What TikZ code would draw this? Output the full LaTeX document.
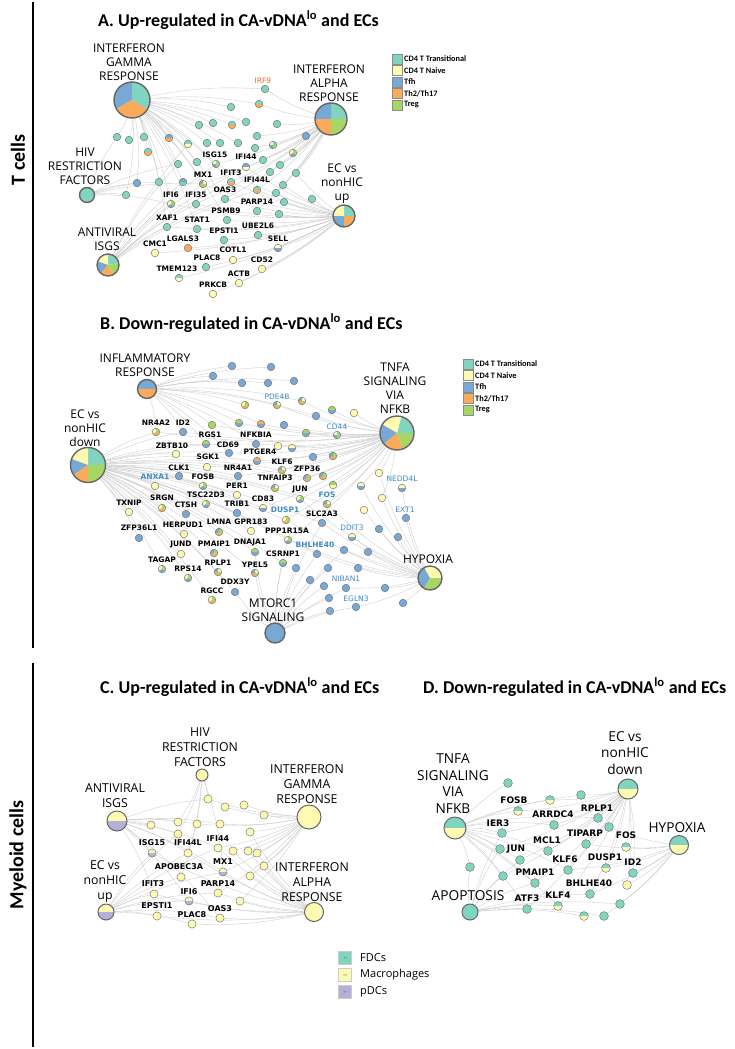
\documentclass[tikz,border=0pt]{standalone}
\usepackage{fontspec}
\setmainfont{Carlito}
\newfontfamily\genefont{DejaVu Sans}
\newfontfamily\hubfont{Open Sans}
\pgfdeclarelayer{back}
\pgfdeclarelayer{bg}
\pgfsetlayers{back,bg,main}
\definecolor{cT}{RGB}{128,212,192}
\definecolor{cY}{RGB}{255,250,178}
\definecolor{cB}{RGB}{120,168,212}
\definecolor{cO}{RGB}{250,170,88}
\definecolor{cG}{RGB}{168,214,100}
\definecolor{cL}{RGB}{180,176,216}
\definecolor{bt}{RGB}{62,140,200}
\definecolor{ot}{RGB}{230,110,40}
\def\sT{0/360/cT}\def\sY{0/360/cY}\def\sB{0/360/cB}\def\sO{0/360/cO}\def\sG{0/360/cG}
\def\sTO{0/180/cT,180/360/cO}\def\sTY{0/180/cT,180/360/cY}\def\sYB{0/180/cY,180/360/cB}
\def\sBO{0/180/cB,180/360/cO}\def\sGB{0/180/cG,180/360/cB}\def\sOB{0/180/cO,180/360/cB}
\def\sBT{0/180/cB,180/360/cT}\def\sBY{0/180/cB,180/360/cY}\def\sGY{0/180/cG,180/360/cY}
\def\sYL{0/180/cY,180/360/cL}
\def\sMa{90/210/cY,210/330/cB,330/450/cG}
\def\sMb{0/90/cT,90/180/cY,180/270/cB,270/360/cG}
\def\sMc{0/90/cY,90/180/cB,180/270/cO,270/360/cG}
\def\sMd{90/210/cY,210/330/cO,330/450/cG}
\def\sMe{90/210/cB,210/330/cO,330/450/cG}
\def\gr{3.8}\def\gfs{7.5}\def\hlw{1.4pt}
\newcommand\PN[5]{%
  \node[dot,minimum size={2*#4*1pt}] (#1) at (#2,-#3) {};
  \edef\pnlist{#5}%
  \foreach \pa/\pb/\pc in \pnlist {\fill[\pc] (#2,-#3) -- ++(\pa:#4) arc[start angle=\pa,end angle=\pb,radius=#4] -- cycle;}
  \draw[dotline] (#2,-#3) circle[radius=#4];}
\newcommand\HN[5]{%
  \node[dot,minimum size={2*#4*1pt}] (#1) at (#2,-#3) {};
  \edef\pnlist{#5}%
  \foreach \pa/\pb/\pc in \pnlist {\fill[\pc] (#2,-#3) -- ++(\pa:#4) arc[start angle=\pa,end angle=\pb,radius=#4] -- cycle;}
  \draw[draw=black!60,line width=\hlw] (#2,-#3) circle[radius=#4];}
\newcommand\GN[7]{\PN{#1}{#2}{#3}{\gr}{#4}\node[glab] (#1l) at (#5,-#6) {#7};}
\newcommand\E[2]{\foreach \t in {#2}{\draw[edge] (#1) to[bend left=7] (\t);}}
\newcommand\LG[5]{\node[lgbox] (#1) at (#2,-#3) [fill=#4] {};\node[lgtxt] (#1t) at (#2+6.5,-#3) {#5};}
\tikzset{
  dot/.style={circle,inner sep=0pt,draw=none},
  dotline/.style={draw=black!55,line width=0.45pt},
  edge/.style={draw=black!20,line width=0.35pt},
  glab/.style={font=\genefont\bfseries\fontsize{\gfs}{\gfs}\selectfont,inner sep=0pt},
  hlab/.style={font=\hubfont\fontsize{12}{14}\selectfont,align=center,inner sep=0pt},
  ttl/.style={font=\bfseries\fontsize{18}{20}\selectfont,anchor=west,inner sep=0pt},
  side/.style={font=\bfseries\fontsize{20}{22}\selectfont,rotate=90,inner sep=0pt},
  lgbox/.style={draw=black!45,line width=0.4pt,minimum width=10pt,minimum height=10pt,inner sep=0pt},
  lgtxt/.style={font=\bfseries\fontsize{8.3}{9}\selectfont,anchor=west,inner sep=0pt},
  lgbox2/.style={draw=black!20,line width=0.4pt,minimum width=13pt,minimum height=13pt,inner sep=0pt},
  lgtxt2/.style={font=\hubfont\fontsize{11}{12}\selectfont,anchor=west,inner sep=0pt},
}
\begin{document}
\begin{tikzpicture}[x=1pt,y=1pt]
\useasboundingbox (0,0) rectangle (734,-1049);
\begin{pgfonlayer}{back}
\fill[white] (0,0) rectangle (734,-1049);
\end{pgfonlayer}
% side bars
\coordinate (b1t) at (33,-2); \coordinate (b1b) at (33,-648);
\coordinate (b2t) at (33,-663); \coordinate (b2b) at (33,-1047);
\draw[line width=2.7pt] (b1t) -- (b1b);
\draw[line width=2.7pt] (b2t) -- (b2b);
\node[side] (tcells) at (18,-160) {T cells};
\node[side] (mcells) at (18,-855) {Myeloid cells};
% titles
\node[ttl] (tA) at (98,-20) {A. Up-regulated in CA-vDNA\textsuperscript{lo} and ECs};
\node[ttl] (tB) at (100,-323) {B. Down-regulated in CA-vDNA\textsuperscript{lo} and ECs};
\node[ttl] (tC) at (100,-687) {C. Up-regulated in CA-vDNA\textsuperscript{lo} and ECs};
\node[ttl] (tD) at (423,-687) {D. Down-regulated in CA-vDNA\textsuperscript{lo} and ECs};
%%%%%%%%%%%%%%%% PANEL A
\HN{ifgA}{132}{100}{18}{90/210/cB,210/330/cO,330/450/cT}
\HN{ifaA}{331}{119}{16}{0/90/cT,90/180/cB,180/270/cO,270/360/cG}
\HN{hivA}{87}{195}{7.5}{\sT}
\HN{isgA}{108}{265}{11}{10/90/cT,90/160/cY,160/230/cB,230/300/cO,300/370/cG}
\HN{ecA}{344}{216}{11}{0/90/cT,90/180/cY,180/270/cB,270/360/cO}
\node[hlab] (ifgAt) at (129,-62) {INTERFERON\\GAMMA\\RESPONSE};
\node[hlab] (ifaAt) at (329,-83) {INTERFERON\\ALPHA\\RESPONSE};
\node[hlab] (hivAt) at (85,-166) {HIV\\RESTRICTION\\FACTORS};
\node[hlab] (isgAt) at (107,-239.5) {ANTIVIRAL\\ISGS};
\node[hlab] (ecAt) at (342,-184) {EC vs\\nonHIC\\up};
\GN{a1}{265}{89}{\sT}{263}{81}{\mdseries\color{ot}IRF9}
\PN{a2}{259}{104}{\gr}{\sTO}
\PN{a3}{231}{107}{\gr}{\sT}
\PN{a4}{199}{125}{\gr}{\sT}
\PN{a5}{213}{123}{\gr}{\sT}
\PN{a6}{232}{125}{\gr}{\sTO}
\PN{a7}{246}{122}{\gr}{\sT}
\PN{a8}{277}{124}{\gr}{\sT}
\PN{a9}{117}{137}{\gr}{\sT}
\PN{a10}{129}{140}{\gr}{\sT}
\PN{a11}{144}{137}{\gr}{\sT}
\PN{a12}{169}{138}{\gr}{\sBO}
\PN{a13}{188}{144}{\gr}{\sTY}
\PN{a14}{207}{143}{\gr}{\sT}
\PN{a15}{220}{143}{\gr}{\sT}
\PN{a16}{238}{143}{\gr}{\sT}
\PN{a17}{257}{136}{\gr}{\sT}
\PN{a18}{255}{148}{\gr}{\sT}
\PN{a19}{273}{145}{\gr}{\sMb}
\PN{a20}{293}{153}{\gr}{\sMa}
\PN{a21}{306}{136}{\gr}{\sB}
\PN{a22}{148}{152}{\gr}{\sTO}
\PN{a23}{197}{162}{\gr}{\sT}
\PN{a24}{178}{164}{\gr}{\sT}
\PN{a25}{263}{160}{\gr}{\sT}
\PN{a26}{280}{165}{\gr}{\sT}
\PN{a27}{270}{172}{\gr}{\sT}
\PN{a28}{296}{173}{\gr}{\sT}
\PN{a29}{137}{183}{\gr}{\sB}
\PN{a30}{159}{182}{\gr}{\sT}
\PN{a31}{183}{182}{\gr}{\sBT}
\PN{a32}{283}{185}{\gr}{\sT}
\PN{a33}{126}{195}{\gr}{\sT}
\PN{a34}{276}{193}{\gr}{\sT}
\PN{a35}{284}{202}{\gr}{\sT}
\PN{a36}{312}{199}{\gr}{\sT}
\PN{a37}{279}{214}{\gr}{\sT}
\GN{aISG15}{216}{164}{\sMb}{215}{155}{ISG15}
\GN{aIFI44}{246}{167}{\sBY}{246}{157}{IFI44}
\GN{aMX1}{203}{184}{\sMc}{203}{175}{MX1}
\GN{aIFIT3}{231}{182}{\sTO}{231}{173}{IFIT3}
\GN{aIFI44L}{257}{190}{\sTO}{257}{180}{IFI44L}
\GN{aOAS3}{225}{199}{\sT}{225}{190}{OAS3}
\GN{aIFI6}{171}{204}{\sMa}{171}{195}{IFI6}
\GN{aIFI35}{196}{204}{\sT}{196}{195}{IFI35}
\GN{aPARP14}{257}{211}{\sT}{257}{202}{PARP14}
\GN{aPSMB9}{227}{220}{\sT}{226}{211}{PSMB9}
\GN{aXAF1}{167}{227}{\sT}{167}{218}{XAF1}
\GN{aSTAT1}{197}{229}{\sT}{197}{220}{STAT1}
\GN{aUBE2L6}{258}{235}{\sT}{258}{226}{UBE2L6}
\GN{aEPSTI1}{224}{240}{\sT}{224}{231}{EPSTI1}
\GN{aSELL}{278}{248}{\sYB}{278}{239}{SELL}
\GN{aLGALS3}{188}{248}{\sO}{183}{239}{LGALS3}
\GN{aCMC1}{155}{253}{\sY}{155}{244}{CMC1}
\GN{aCOTL1}{233}{260}{\sY}{233}{250}{COTL1}
\GN{aPLAC8}{206}{267}{\sT}{207}{258}{PLAC8}
\GN{aCD52}{262}{269}{\sY}{262}{260}{CD52}
\GN{aTMEM123}{179}{278}{\sTY}{177}{269}{TMEM123}
\GN{aACTB}{239}{283}{\sY}{239}{274}{ACTB}
\GN{aPRKCB}{213}{294}{\sY}{213}{285}{PRKCB}
\LG{lA1}{397.5}{59}{cT}{CD4 T Transitional}
\LG{lA2}{397.5}{70.5}{cY}{CD4 T Naive}
\LG{lA3}{397.5}{82}{cB}{Tfh}
\LG{lA4}{397.5}{93.5}{cO}{Th2/Th17}
\LG{lA5}{397.5}{105}{cG}{Treg}
\begin{pgfonlayer}{bg}
\E{ecA}{aISG15,aIFI44,aMX1,aIFIT3,aIFI44L,aOAS3,aIFI6,aIFI35,aPARP14,aPSMB9,aXAF1,aSTAT1,aUBE2L6,aEPSTI1,aSELL,aLGALS3,aCMC1,aCOTL1,aPLAC8,aCD52,aTMEM123,aACTB,aPRKCB,a36,a35,a37,a32,a34,a28}
\E{ifgA}{a9,a10,a11,a12,a13,a22,a4,a5,a3,a1,a2,a6,a7,a14,a15,a16,aISG15,aMX1,aIFI6,aIFIT3,aOAS3,a29,a30,a31,a33,a24,a23,aSTAT1,aXAF1,aPSMB9}
\E{ifaA}{a1,a2,a8,a19,a20,a21,a17,a18,a25,a26,a27,a28,aIFI44,aIFI44L,aPARP14,aISG15,aMX1,aIFIT3,a32,a34,aIFI35,aOAS3}
\E{hivA}{a29,a33,a9,aMX1,aIFI6,a30,a24}
\E{isgA}{aISG15,aMX1,aIFIT3,aIFI44,aIFI44L,aOAS3,aIFI6,a31,a24,a13,aXAF1,aIFI35}
\end{pgfonlayer}
%%%%%%%%%%%%%%%% PANEL B
\HN{infB}{147}{389}{9.5}{\sBO}
\HN{ecB}{88}{465}{17.5}{0/90/cT,90/160/cY,160/215/cB,215/270/cO,270/360/cG}
\HN{tnfB}{397}{433}{17}{0/75/cT,75/150/cY,150/220/cB,220/290/cO,290/360/cG}
\HN{hypB}{430}{578}{12}{0/120/cY,120/240/cB,240/360/cG}
\HN{mtB}{275}{633}{10}{\sB}
\node[hlab] (infBt) at (145,-365) {INFLAMMATORY\\RESPONSE};
\node[hlab] (ecBt) at (85,-428) {EC vs\\nonHIC\\down};
\node[hlab] (tnfBt) at (395,-388) {TNFA\\SIGNALING\\VIA\\NFKB};
\node[hlab] (hypBt) at (428,-559) {HYPOXIA};
\node[hlab] (mtBt) at (273,-610) {MTORC1\\SIGNALING};
\PN{b1}{232}{366}{\gr}{\sB}
\PN{b2}{271}{367}{\gr}{\sB}
\PN{b3}{213}{376}{\gr}{\sB}
\PN{b4}{242}{383}{\gr}{\sB}
\PN{b5}{268}{383}{\gr}{\sB}
\PN{b6}{294}{381}{\gr}{\sB}
\PN{b7}{245}{405}{\gr}{\sMd}
\PN{b8}{302}{401}{\gr}{\sMc}
\PN{b9}{316}{416}{\gr}{\sB}
\PN{b10}{332}{410}{\gr}{\sGB}
\PN{b11}{354}{413}{\gr}{\sY}
\PN{b12}{212}{425}{\gr}{\sG}
\PN{b13}{239}{423}{\gr}{\sGB}
\PN{b14}{261}{424}{\gr}{\sOB}
\PN{b15}{284}{425}{\gr}{\sB}
\PN{b16}{306}{433}{\gr}{\sGB}
\PN{b17}{278}{446}{\gr}{\sY}
\PN{b18}{292}{448}{\gr}{\sYB}
\PN{b19}{313}{457}{\gr}{\sB}
\PN{b20}{333}{456}{\gr}{\sMe}
\PN{b21}{323}{476}{\gr}{\sMe}
\PN{b22}{379}{473}{\gr}{\sY}
\PN{b23}{333}{485}{\gr}{\sGY}
\PN{b24}{361}{486}{\gr}{\sYB}
\PN{b25}{382}{498}{\gr}{\sY}
\PN{b26}{364}{510}{\gr}{\sY}
\PN{b27}{379}{529}{\gr}{\sB}
\PN{b28}{398}{537}{\gr}{\sB}
\PN{b29}{344}{550}{\gr}{\sB}
\PN{b30}{368}{552}{\gr}{\sB}
\PN{b31}{296}{568}{\gr}{\sB}
\PN{b32}{328}{568}{\gr}{\sB}
\PN{b33}{358}{568}{\gr}{\sB}
\PN{b34}{310}{580}{\gr}{\sB}
\PN{b35}{324}{586}{\gr}{\sB}
\PN{b36}{385}{588}{\gr}{\sB}
\PN{b37}{329}{598}{\gr}{\sB}
\PN{b38}{403}{603}{\gr}{\sB}
\PN{b39}{330}{611}{\gr}{\sB}
\GN{bNR4A2}{156}{432}{\sMd}{156}{423}{NR4A2}
\GN{bID2}{183}{432}{\sB}{183}{423}{ID2}
\GN{bRGS1}{206}{444}{\sGB}{210}{435}{RGS1}
\GN{bNFKBIA}{256}{444}{\sB}{256}{435}{NFKBIA}
\GN{bZBTB10}{176}{454}{\sY}{172}{446}{ZBTB10}
\GN{bCD69}{229}{453}{\sB}{228}{445}{CD69}
\GN{bPTGER4}{257}{461}{\sOB}{260}{452}{PTGER4}
\GN{bSGK1}{207}{467}{\sY}{208}{457}{SGK1}
\GN{bKLF6}{282}{470}{\sMc}{282}{462}{KLF6}
\GN{bZFP36}{307}{478}{\sMe}{307}{469}{ZFP36}
\GN{bCLK1}{179}{476}{\sB}{179}{468}{CLK1}
\GN{bNR4A1}{238}{476}{\sB}{238}{468}{NR4A1}
\GN{bFOSB}{203}{486}{\sMa}{203}{477}{FOSB}
\GN{bTNFAIP3}{275}{488}{\sMc}{275}{478}{TNFAIP3}
\GN{bPER1}{237}{495}{\sY}{237}{486}{PER1}
\GN{bJUN}{300}{499}{\sMa}{300}{490}{JUN}
\GN{bTSC22D3}{206}{504}{\sMa}{206}{495}{TSC22D3}
\GN{bCD83}{263}{508}{\sYB}{263}{499}{CD83}
\GN{bSRGN}{162}{508}{\sMd}{162}{498}{SRGN}
\GN{bCTSH}{186}{514}{\sB}{186}{505}{CTSH}
\GN{bTXNIP}{129}{512}{\sY}{129}{503}{TXNIP}
\GN{bTRIB1}{237}{513}{\sB}{237}{504}{TRIB1}
\GN{bSLC2A3}{322}{523}{\sB}{322}{514}{SLC2A3}
\GN{bZFP36L1}{139}{538}{\sB}{139}{528}{ZFP36L1}
\GN{bHERPUD1}{184}{534}{\sY}{183}{525}{HERPUD1}
\GN{bLMNA}{219}{532}{\sMe}{219}{522}{LMNA}
\GN{bGPR183}{251}{531}{\sY}{251}{522}{GPR183}
\GN{bPPP1R15A}{288}{540}{\sMa}{287}{531}{PPP1R15A}
\GN{bJUND}{181}{554}{\sY}{181}{545}{JUND}
\GN{bPMAIP1}{214}{553}{\sMe}{214}{544}{PMAIP1}
\GN{bDNAJA1}{255}{552}{\sGB}{250}{543}{DNAJA1}
\GN{bTAGAP}{162}{569}{\sMa}{162}{560}{TAGAP}
\GN{bRPS14}{188}{578}{\sMa}{188}{569}{RPS14}
\GN{bRPLP1}{218}{572}{\sMc}{218}{563}{RPLP1}
\GN{bCSRNP1}{283}{563}{\sGB}{283}{554}{CSRNP1}
\GN{bYPEL5}{255}{573}{\sMc}{255}{565}{YPEL5}
\GN{bDDX3Y}{235}{592}{\sB}{235}{582}{DDX3Y}
\GN{bRGCC}{212}{600}{\sMd}{212}{591}{RGCC}
\GN{bANXA1}{155}{486}{\sY}{155}{477}{\color{bt}ANXA1}
\GN{bPDE4B}{277}{405}{\sMc}{277}{397}{\mdseries\color{bt}PDE4B}
\GN{bCD44}{337}{435}{\sMb}{337}{427}{\mdseries\color{bt}CD44}
\GN{bNEDD4L}{402}{488}{\sYB}{402}{479}{\mdseries\color{bt}NEDD4L}
\GN{bFOS}{327}{504}{\sMc}{327}{495}{\color{bt}FOS}
\GN{bEXT1}{406}{518}{\sB}{405}{510}{\mdseries\color{bt}EXT1}
\GN{bDUSP1}{286}{520}{\sMd}{285}{510}{\color{bt}DUSP1}
\GN{bDDIT3}{352}{537}{\sYB}{352}{528}{\mdseries\color{bt}DDIT3}
\GN{bBHLHE40}{317}{554}{\sB}{315}{545}{\color{bt}BHLHE40}
\GN{bNIBAN1}{346}{588}{\sB}{346}{579}{\mdseries\color{bt}NIBAN1}
\GN{bEGLN3}{356}{607}{\sB}{356}{599}{\mdseries\color{bt}EGLN3}
\LG{lB1}{468.5}{364}{cT}{CD4 T Transitional}
\LG{lB2}{468.5}{375.5}{cY}{CD4 T Naive}
\LG{lB3}{468.5}{387}{cB}{Tfh}
\LG{lB4}{468.5}{398.5}{cO}{Th2/Th17}
\LG{lB5}{468.5}{410}{cG}{Treg}
\begin{pgfonlayer}{bg}
\E{ecB}{bNR4A2,bID2,bRGS1,bNFKBIA,bZBTB10,bCD69,bPTGER4,bSGK1,bKLF6,bZFP36,bCLK1,bNR4A1,bFOSB,bTNFAIP3,bPER1,bJUN,bTSC22D3,bCD83,bSRGN,bCTSH,bTXNIP,bTRIB1,bSLC2A3,bZFP36L1,bHERPUD1,bLMNA,bGPR183,bPPP1R15A,bJUND,bPMAIP1,bDNAJA1,bTAGAP,bRPS14,bRPLP1,bCSRNP1,bYPEL5,bDDX3Y,bRGCC,bANXA1,bFOS,bDUSP1,bBHLHE40}
\E{tnfB}{b8,b9,b10,b11,b16,b17,b18,b19,b20,b21,b22,b23,b24,b25,bCD44,bNFKBIA,bKLF6,bZFP36,bJUN,bFOS,bTNFAIP3,bPDE4B,bCD83,bNR4A1,bNR4A2,b15,b14,b13,b12,bPTGER4,bCD69,bID2,bSGK1,bDUSP1,bPPP1R15A}
\E{hypB}{bNEDD4L,bEXT1,bDDIT3,bNIBAN1,bEGLN3,bBHLHE40,b26,b27,b28,b29,b30,b33,b36,b38,bFOS,bDUSP1,bSLC2A3,b24,b25,bJUN,bPPP1R15A,b22}
\E{mtB}{b31,b32,b34,b35,b37,b39,bDDX3Y,bCSRNP1,bYPEL5,bNIBAN1,bEGLN3,bSLC2A3,bBHLHE40,bPPP1R15A,bDNAJA1,b29}
\E{infB}{b1,b2,b3,b4,b5,b6,b7,bPDE4B,b8,b9,b12,b14,bID2,bRGS1,bCD69,bNFKBIA,bNR4A2,b13}
\end{pgfonlayer}
%%%%%%%%%%%%%%%% PANEL C
\def\gr{4.1}\def\gfs{8}\def\hlw{1pt}
\HN{hivC}{202}{775}{6}{\sY}
\HN{isgC}{117}{821}{10}{\sYL}
\HN{ifgC}{309}{817}{12}{\sY}
\HN{ecC}{106}{912}{8}{\sYL}
\HN{ifaC}{314}{912}{9.5}{\sY}
\begin{scope}[hlab/.append style={font=\hubfont\fontsize{12.3}{15}\selectfont}]
\node[hlab] (hivCt) at (200,-747) {HIV\\RESTRICTION\\FACTORS};
\node[hlab] (isgCt) at (115,-795.5) {ANTIVIRAL\\ISGS};
\node[hlab] (ifgCt) at (307,-784) {INTERFERON\\GAMMA\\RESPONSE};
\node[hlab] (ecCt) at (105,-882) {EC vs\\nonHIC\\up};
\node[hlab] (ifaCt) at (312,-882) {INTERFERON\\ALPHA\\RESPONSE};
\end{scope}
\PN{c1}{208}{799}{\gr}{\sY}
\PN{c2}{225}{807}{\gr}{\sY}
\PN{c3}{244}{805}{\gr}{\sY}
\PN{c4}{264}{815}{\gr}{\sY}
\PN{c5}{151}{825}{\gr}{\sY}
\PN{c6}{178}{822}{\gr}{\sY}
\PN{c7}{197}{824}{\gr}{\sY}
\PN{c8}{220}{824}{\gr}{\sY}
\PN{c9}{250}{832}{\gr}{\sY}
\PN{c10}{178}{834}{\gr}{\sY}
\PN{c11}{233}{851}{\gr}{\sY}
\PN{c12}{248}{851}{\gr}{\sY}
\PN{c13}{257}{853}{\gr}{\sY}
\PN{c14}{264}{866}{\gr}{\sY}
\PN{c15}{250}{876}{\gr}{\sY}
\PN{c16}{240}{901}{\gr}{\sY}
\GN{cIFI44L}{188}{853}{\sY}{188}{843}{IFI44L}
\GN{cIFI44}{218}{848}{\sY}{218}{839}{IFI44}
\GN{cISG15}{152}{853}{\sYL}{152}{843}{ISG15}
\GN{cMX1}{223}{872}{\sYL}{223}{862}{MX1}
\GN{cAPOBEC3A}{181}{877}{\sY}{179}{867}{APOBEC3A}
\GN{cIFIT3}{154}{894}{\sY}{153}{884}{IFIT3}
\GN{cPARP14}{218}{893}{\sY}{218}{884}{PARP14}
\GN{cIFI6}{189}{901}{\sYL}{189}{892}{IFI6}
\GN{cEPSTI1}{157}{916}{\sY}{157}{906}{EPSTI1}
\GN{cOAS3}{220}{918}{\sY}{220}{909}{OAS3}
\GN{cPLAC8}{192}{924}{\sY}{192}{915}{PLAC8}
\begin{pgfonlayer}{bg}
\E{ecC}{cISG15,cIFI44L,cIFI44,cMX1,cAPOBEC3A,cIFIT3,cPARP14,cIFI6,cEPSTI1,cOAS3,cPLAC8,c10}
\E{ifaC}{c14,c15,c16,c13,c12,c11,cMX1,cPARP14,cOAS3,cIFI6,cIFIT3,cEPSTI1,cPLAC8,cIFI44,cIFI44L,cISG15,c9}
\E{ifgC}{c1,c2,c3,c4,c9,c8,c7,c11,c12,c13,c14,c15,cMX1,cIFI44,cPARP14,c16}
\E{isgC}{c5,c6,c7,c8,c10,cISG15,cIFI44L,cIFI44,cMX1,cIFIT3,cIFI6,cOAS3,c1}
\E{hivC}{c1,c6,c10,cMX1,cAPOBEC3A,cIFI44L}
\end{pgfonlayer}
% legend C/D
\foreach \nm/\yy/\cc/\dg/\tx in {lC1/958/cT/1/FDCs,lC2/975/cY/2/Macrophages,lC3/992/cL/3/pDCs}{
  \node[lgbox2,fill=\cc] (\nm) at (345,-\yy) {};
  \node[rotate=90,font=\fontsize{4}{4}\selectfont,inner sep=0pt,text=black!70] (\nm d) at (345,-\yy) {\dg};
  \node[lgtxt2] (\nm t) at (360,-\yy) {\tx};
}
%%%%%%%%%%%%%%%% PANEL D
\def\gr{4.4}\def\gfs{9}
\HN{tnfD}{455}{828}{11}{\sTY}
\HN{ecD}{628}{789}{10}{\sTY}
\HN{hypD}{679}{845}{9.5}{\sTY}
\HN{apoD}{470}{912}{8}{\sT}
\begin{scope}[hlab/.append style={font=\hubfont\fontsize{13.7}{16.8}\selectfont}]
\node[hlab] (tnfDt) at (453,-783.5) {TNFA\\SIGNALING\\VIA\\NFKB};
\node[hlab] (ecDt) at (625,-753) {EC vs\\nonHIC\\down};
\node[hlab] (hypDt) at (677,-828) {HYPOXIA};
\node[hlab] (apoDt) at (468,-896) {APOPTOSIS};
\end{scope}
\PN{d1}{508}{783}{\gr}{\sT}
\PN{d2}{581}{795}{\gr}{\sT}
\PN{d3}{550}{800}{\gr}{\sTY}
\PN{d4}{609}{827}{\gr}{\sT}
\PN{d5}{470}{867}{\gr}{\sT}
\PN{d6}{520}{860}{\gr}{\sT}
\PN{d7}{503}{876}{\gr}{\sT}
\PN{d8}{627}{885}{\gr}{\sY}
\PN{d9}{620}{904}{\gr}{\sT}
\PN{d10}{584}{916}{\gr}{\sTY}
\PN{d11}{604}{916}{\gr}{\sT}
\GN{dFOSB}{518}{811}{\sTY}{514}{800}{FOSB}
\GN{dARRDC4}{554}{825}{\sT}{553}{814}{ARRDC4}
\GN{dRPLP1}{598}{818}{\sT}{597}{808}{RPLP1}
\GN{dIER3}{502}{833}{\sT}{498}{823}{IER3}
\GN{dTIPARP}{586}{844}{\sT}{585}{833}{TIPARP}
\GN{dFOS}{626}{847}{\sTY}{626}{835}{FOS}
\GN{dMCL1}{548}{851}{\sT}{547}{840}{MCL1}
\GN{dJUN}{500}{849}{\sT}{516}{849}{JUN}
\GN{dKLF6}{568}{870}{\sT}{565}{859}{KLF6}
\GN{dDUSP1}{606}{868}{\sTY}{605}{857}{DUSP1}
\GN{dID2}{633}{873}{\sT}{633}{862}{ID2}
\GN{dPMAIP1}{535}{883}{\sT}{535}{872}{PMAIP1}
\GN{dBHLHE40}{590}{894}{\sT}{589}{883}{BHLHE40}
\GN{dATF3}{527}{909}{\sT}{527}{898}{ATF3}
\GN{dKLF4}{558}{906}{\sTY}{558}{895}{KLF4}
\begin{pgfonlayer}{bg}
\E{ecD}{d2,dRPLP1,d4,dTIPARP,dFOS,dARRDC4,dFOSB,d3,dIER3,dMCL1,dJUN,dKLF6,dDUSP1,dID2,dPMAIP1,dBHLHE40,dATF3,dKLF4,d8,d6,d7}
\E{tnfD}{d1,dFOSB,dIER3,dJUN,d5,d7,dMCL1,dARRDC4,d3,dPMAIP1,dKLF6,dKLF4,dATF3,d6,d2,dRPLP1}
\E{hypD}{dFOS,dDUSP1,dID2,d8,dBHLHE40,d9,d11,dKLF6,dTIPARP,d4}
\E{apoD}{d5,d7,dPMAIP1,dATF3,dKLF4,d10,d11,d9,dBHLHE40,dJUN,dIER3,d6}
\end{pgfonlayer}
\end{tikzpicture}
\end{document}
